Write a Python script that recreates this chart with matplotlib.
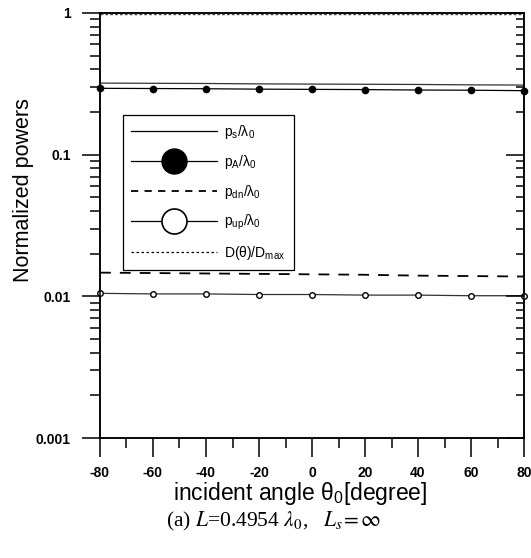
import matplotlib
matplotlib.use("Agg")
import matplotlib.pyplot as plt
from matplotlib.lines import Line2D
from matplotlib.ticker import FixedLocator, FixedFormatter, LogLocator, NullFormatter

plt.rcParams['font.family'] = ['Liberation Sans', 'DejaVu Sans']
plt.rcParams['mathtext.fontset'] = 'custom'
plt.rcParams['mathtext.rm'] = 'Liberation Sans'
plt.rcParams['mathtext.it'] = 'Liberation Sans:italic'
plt.rcParams['mathtext.bf'] = 'Liberation Sans:bold'

# ---- data ----
theta = [-80, -60, -40, -20, 0, 20, 40, 60, 80]
p_s = [0.320, 0.319, 0.318, 0.316, 0.315, 0.314, 0.313, 0.311, 0.310]
p_A = [0.294, 0.293, 0.292, 0.290, 0.289, 0.288, 0.286, 0.285, 0.283]
p_dn = [0.0147, 0.0146, 0.0145, 0.0144, 0.0143, 0.0142, 0.0140, 0.0139, 0.0138]
p_up = [0.0105, 0.0104, 0.0104, 0.0103, 0.0103, 0.0102, 0.0102, 0.0101, 0.0101]
D_norm = [0.985, 0.985, 0.985, 0.985, 0.985, 0.985, 0.985, 0.985, 0.985]

xticks = [-80, -60, -40, -20, 0, 20, 40, 60, 80]
xminor = [-70, -50, -30, -10, 10, 30, 50, 70]
yticks = [0.001, 0.01, 0.1, 1]
yticklabels = ['0.001', '0.01', '0.1', '1']

labels = [r'p$_\mathrm{s}$/λ$_0$', r'p$_\mathrm{A}$/λ$_0$', r'p$_\mathrm{dn}$/λ$_0$',
          r'p$_\mathrm{up}$/λ$_0$', r'D(θ)/D$_\mathrm{max}$']

fig = plt.figure(figsize=(5.31, 5.58), dpi=100)
ax = fig.add_axes([100/531, 1-438/558, 424/531, 425/558])

lw = 0.9
ax.plot(theta, p_s, color='#333333', lw=lw, zorder=3)
ax.plot(theta, p_A, color='black', lw=lw, marker='o', ms=4.5, mfc='black', mec='black', zorder=4, clip_on=False)
ax.plot(theta, p_dn, color='black', lw=1.3, ls=(0, (6, 5)), zorder=3)
ax.plot(theta, p_up, color='#333333', lw=lw, marker='o', ms=4, mfc='white', mec='black', mew=1.0, zorder=4, clip_on=False)
ax.plot(theta, D_norm, color='#444444', lw=1.0, ls=(0, (2, 1.5)), zorder=3)

ax.set_yscale('log')
ax.set_xlim(-80, 80)
ax.set_ylim(0.001, 1)

ax.xaxis.set_major_locator(FixedLocator(xticks))
ax.xaxis.set_minor_locator(FixedLocator(xminor))
ax.set_xticklabels([str(v) for v in xticks], fontweight='bold', fontsize=10)
ax.yaxis.set_major_locator(FixedLocator(yticks))
ax.yaxis.set_major_formatter(FixedFormatter(yticklabels))
ax.yaxis.set_minor_locator(LogLocator(base=10, subs=range(2, 10)))
ax.yaxis.set_minor_formatter(NullFormatter())
for t in ax.get_yticklabels():
    t.set_fontweight('bold')
    t.set_fontsize(10)

ax.tick_params(axis='x', which='major', direction='out', length=14, width=1.1, pad=6, top=False)
ax.tick_params(axis='x', which='minor', direction='out', length=7, width=1.1, top=False)
ax.tick_params(axis='y', which='major', direction='out', length=13, width=1.1, pad=8, right=False)
ax.tick_params(axis='y', which='minor', direction='out', length=7, width=1.1, right=False)

for s in ax.spines.values():
    s.set_linewidth(1.1)

# right axis with inward ticks
ax2 = ax.twinx()
ax2.set_yscale('log')
ax2.set_ylim(0.001, 1)
ax2.yaxis.set_major_locator(FixedLocator(yticks))
ax2.yaxis.set_minor_locator(LogLocator(base=10, subs=range(2, 10)))
ax2.yaxis.set_minor_formatter(NullFormatter())
ax2.tick_params(axis='y', which='major', direction='in', length=13, width=1.1, labelright=False)
ax2.tick_params(axis='y', which='minor', direction='in', length=6, width=1.1, labelright=False)
for s in ax2.spines.values():
    s.set_linewidth(1.1)

ax.set_xlabel(r'incident angle θ$_0$[degree]', fontsize=16.5)
ax.xaxis.set_label_coords(0.472, -0.098)
ax.set_ylabel('Normalized powers', fontsize=15.5)
ax.yaxis.set_label_coords(-0.155, 0.583)

handles = [
    Line2D([], [], color='black', lw=lw),
    Line2D([], [], color='black', lw=lw, marker='o', ms=18, mfc='black', mec='black'),
    Line2D([], [], color='black', lw=1.3, ls=(0, (4, 3.5))),
    Line2D([], [], color='black', lw=lw, marker='o', ms=18, mfc='white', mec='black', mew=1.2),
    Line2D([], [], color='black', lw=0.9, ls=(0, (2, 2))),
]
leg = ax2.legend(handles, labels, loc='upper left', bbox_to_anchor=(0.054, 0.76),
                 borderaxespad=0, fontsize=10, handlelength=6.2, handletextpad=0.5,
                 labelspacing=0.85, borderpad=0.6, fancybox=False, framealpha=1,
                 edgecolor='black')
leg.get_frame().set_linewidth(0.9)

fig.text(274/531, 1-521/558, r'(a) $L$=0.4954 $\lambda_0$,   $L_s\!=\infty$',
         family='Liberation Serif', math_fontfamily='stix', fontsize=15.5,
         ha='center', va='center')

fig.savefig('out.png', dpi=100)
